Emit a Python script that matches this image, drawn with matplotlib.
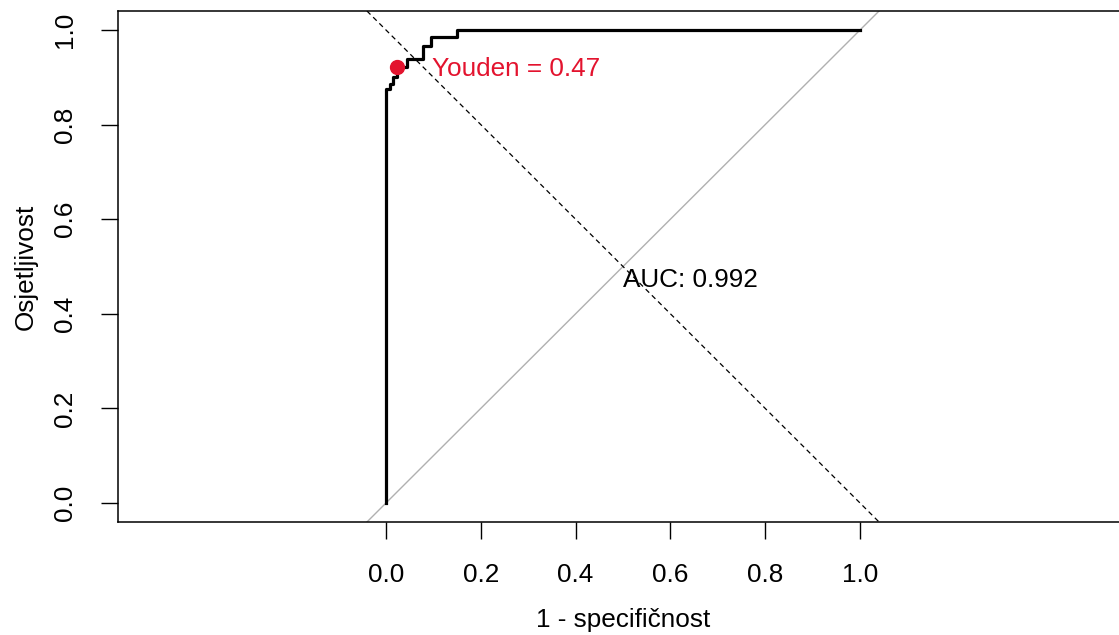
import matplotlib.pyplot as plt

plt.rcParams['font.family'] = ['Liberation Sans', 'DejaVu Sans']

# ROC curve corners (1 - specificity, sensitivity), drawn as vertical-then-horizontal steps
fpr = [0.0, 0.008, 0.015, 0.023, 0.044, 0.078, 0.095, 0.150, 1.0]
tpr = [0.0, 0.875, 0.886, 0.900, 0.922, 0.939, 0.966, 0.985, 1.0]

best_fpr, best_tpr = 0.023, 0.922
youden_label = "Youden = 0.47"
auc_label = "AUC: 0.992"
ticks = [0.0, 0.2, 0.4, 0.6, 0.8, 1.0]

W, H = 1119, 635
fs = 18.8
fig = plt.figure(figsize=(W / 100, H / 100), dpi=100)
ax = fig.add_axes([118 / W, 113 / H, 1010 / W, 511 / H])

ax.plot(fpr, tpr, drawstyle="steps-pre", color="black", lw=2.3, zorder=3)
ax.axline((0, 0), (1, 1), color="#b0b0b0", lw=1.0, zorder=1)
ax.axline((0, 1), (1, 0), color="black", lw=0.9, ls=(0, (4, 3)), zorder=2)

red = "#e3132e"
ax.plot(best_fpr, best_tpr, "o", color=red, ms=10, zorder=4)
ax.text(best_fpr + 0.074, best_tpr - 0.004, youden_label, color=red, fontsize=fs,
        va="center", ha="left")
ax.text(0.5, 0.472, auc_label, fontsize=fs, va="center", ha="left")

ax.set_xlim(-0.565, 1.565)
ax.set_ylim(-0.04, 1.04)
ax.set_xticks(ticks)
ax.set_yticks(ticks)
ax.set_xticklabels([f"{t:.1f}" for t in ticks])
ax.set_yticklabels([f"{t:.1f}" for t in ticks], rotation=90, va="center")
ax.tick_params(axis="both", length=12.5, width=1.0, labelsize=fs, pad=17)

for s in ax.spines.values():
    s.set_linewidth(1.1)

ax.set_xlabel("1 - specifičnost", fontsize=fs, labelpad=15)
ax.set_ylabel("Osjetljivost", fontsize=fs, labelpad=11)

fig.savefig("out.png", dpi=100)
